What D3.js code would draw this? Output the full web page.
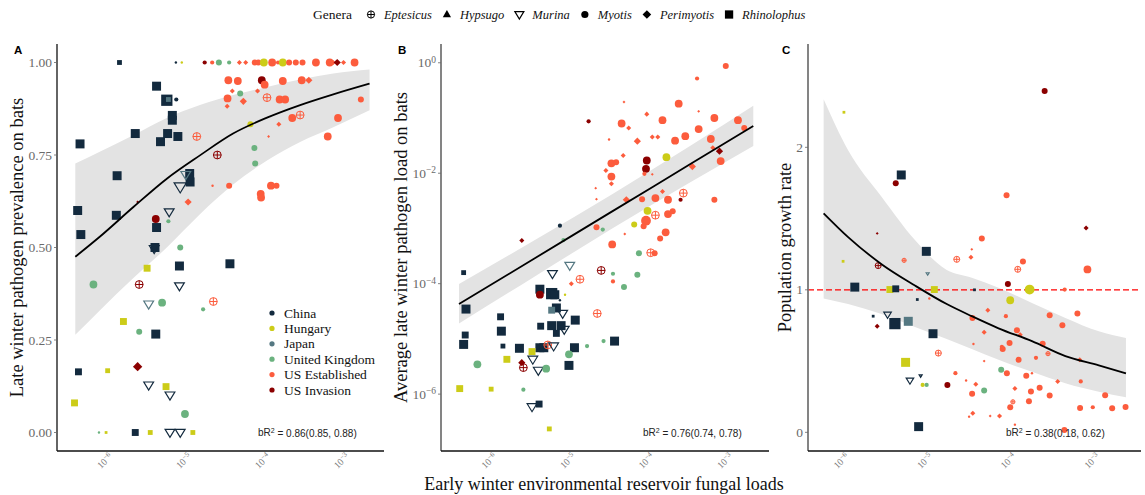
<!DOCTYPE html>
<html>
<head>
<meta charset="utf-8">
<script src="https://cdn.jsdelivr.net/npm/d3@7"></script>
<style>
  body { margin: 0; background: #fff; }
</style>
</head>
<body>
<div id="chart"></div>
<script>
// ---- categories ----
const countryCodes = ['CN', 'HU', 'JP', 'UK', 'USE', 'USI']
const countryNames = ['China', 'Hungary', 'Japan', 'United Kingdom', 'US Established', 'US Invasion']
const countryColors = ['#132a3e', '#cccc18', '#557882', '#6bb27f', '#fc5c3d', '#8b0000']
const generaCodes = ['E', 'H', 'Mu', 'My', 'P', 'R']
const generaNames = ['Eptesicus', 'Hypsugo', 'Murina', 'Myotis', 'Perimyotis', 'Rhinolophus']

// ---- tick values ----
const xTickExps = [-6, -5, -4, -3]
const yTicksA = [0, 0.25, 0.5, 0.75, 1]
const yTickExpsB = [-6, -4, -2, 0]
const yTicksC = [0, 1, 2]

// ---- points: [country, genus, size class, log10 fungal load, response] ----
const pointsA = [
  ['CN','R',2,-5.88,1], ['CN','My',1,-5.165,1], ['HU','My',1,-5.09,1], ['USI','My',2,-4.80,1],
  ['USE','My',2,-4.705,1], ['UK','My',3,-4.62,1], ['UK','My',2,-4.49,1], ['USE','P',2,-4.36,1],
  ['USE','P',2,-4.28,1], ['USE','My',3,-4.165,1], ['USE','My',3,-4.12,1], ['HU','My',4,-4.05,1],
  ['USE','My',4,-3.945,1], ['USE','My',2,-3.87,1], ['HU','My',4,-3.81,1], ['USE','My',3,-3.73,1],
  ['USE','My',3,-3.645,1], ['USE','My',3,-3.56,1], ['USE','My',4,-3.39,1], ['USE','My',4,-3.215,1],
  ['USE','P',2,-3.17,1], ['USI','P',3,-3.12,1], ['USE','P',2,-3.04,1], ['USE','My',4,-2.90,1],
  ['USE','My',4,-4.50,0.952], ['USE','My',4,-4.38,0.95], ['USI','My',4,-4.076,0.952], ['USE','My',4,-4.04,0.94],
  ['USE','My',4,-3.81,0.95], ['USE','My',4,-3.57,0.952], ['USE','P',3,-3.48,0.952], ['USE','P',2,-4.45,0.923],
  ['UK','My',3,-4.35,0.916], ['USE','P',2,-4.13,0.923], ['USE','My',4,-4.51,0.903], ['USE','P',3,-4.31,0.895],
  ['USE','P',2,-4.515,0.882], ['USE','E',4,-4.01,0.905], ['USE','My',4,-3.85,0.90], ['USE','My',4,-3.78,0.90],
  ['USE','My',3,-2.82,0.90], ['USE','E',4,-3.59,0.858], ['USE','My',4,-3.69,0.85], ['USE','My',4,-3.11,0.85],
  ['HU','My',3,-4.22,0.833], ['USE','P',2,-3.86,0.833], ['USE','P',1,-3.99,0.80], ['USE','My',4,-3.24,0.80],
  ['USE','E',4,-4.90,0.80], ['UK','My',3,-4.17,0.769], ['UK','My',3,-4.16,0.727], ['USI','E',4,-4.64,0.75],
  ['USE','My',1,-4.70,0.667], ['USE','My',3,-4.49,0.667], ['USE','My',4,-3.96,0.667], ['USE','My',3,-3.89,0.667],
  ['USE','My',4,-4.09,0.645], ['USE','My',4,-4.085,0.635], ['USE','P',3,-5.01,0.623], ['UK','My',2,-5.26,0.571],
  ['UK','My',3,-5.11,0.50], ['USI','My',4,-5.42,0.577], ['USI','P',1,-5.65,0.623],
  ['CN','R',4,-5.41,0.936], ['CN','R',5,-5.28,0.898], ['JP','R',2,-5.26,0.90], ['CN','My',2,-5.16,0.90],
  ['CN','R',4,-5.21,0.857], ['CN','R',4,-5.21,0.844], ['CN','R',4,-5.68,0.808], ['CN','R',4,-5.27,0.808],
  ['CN','R',4,-5.36,0.786], ['CN','R',4,-5.14,0.80], ['CN','R',4,-6.38,0.78], ['CN','R',4,-5.91,0.694],
  ['CN','R',4,-4.99,0.70], ['CN','R',4,-4.985,0.677], ['CN','R',4,-6.41,0.60], ['CN','R',4,-5.92,0.587],
  ['CN','R',4,-6.37,0.535], ['CN','R',4,-5.41,0.554], ['CN','R',4,-5.43,0.50], ['CN','R',4,-5.12,0.45],
  ['CN','R',4,-4.48,0.456], ['CN','R',4,-5.42,0.266], ['CN','R',3,-6.40,0.164], ['CN','R',3,-5.68,0],
  ['CN','Mu',5,-5.11,0.664], ['JP','Mu',4,-5.04,0.697], ['CN','Mu',4,-5.25,0.596], ['CN','Mu',4,-5.44,0.497],
  ['CN','Mu',4,-5.12,0.396], ['JP','Mu',4,-5.51,0.347], ['CN','Mu',4,-5.51,0.128], ['CN','Mu',4,-5.24,0.101],
  ['CN','Mu',4,-5.24,0], ['CN','Mu',4,-5.11,0],
  ['HU','R',3,-5.53,0.444], ['HU','R',3,-5.83,0.30], ['HU','R',2,-6.03,0.167], ['HU','R',3,-6.45,0.08],
  ['HU','R',3,-5.29,0.124], ['HU','R',1,-6.05,0], ['HU','R',2,-5.49,0], ['HU','R',2,-4.95,0],
  ['UK','My',4,-6.21,0.40], ['UK','My',4,-5.34,0.351], ['UK','My',2,-4.82,0.333], ['UK','My',3,-5.63,0.272],
  ['UK','My',4,-5.05,0.05], ['UK','My',1,-6.14,0], ['USI','E',4,-5.63,0.40], ['USE','E',4,-4.69,0.354],
  ['USI','P',4,-5.65,0.178]
]

// panel B response is log10 of the pathogen load
const pointsB = [
  ['USE','My',3,-3.055,-0.06], ['USE','My',2,-3.42,-0.285], ['USE','P',1,-4.35,-0.71], ['USE','My',4,-3.654,-0.74],
  ['USE','P',1,-3.40,-0.88], ['USE','P',2,-4.06,-0.93], ['USI','My',2,-4.80,-1.06], ['USE','My',4,-4.38,-1.10],
  ['USE','My',4,-3.86,-1.04], ['USE','My',4,-3.20,-1.00], ['USE','My',4,-2.90,-1.04], ['USE','P',2,-4.29,-1.18],
  ['USE','My',4,-3.40,-1.20], ['USE','My',3,-2.82,-1.18], ['USE','P',2,-3.99,-1.345], ['USE','P',2,-3.92,-1.345],
  ['USE','My',4,-3.57,-1.33], ['USE','My',4,-3.70,-1.41], ['USE','My',1,-4.54,-1.39], ['USE','P',3,-4.18,-1.42],
  ['USE','My',4,-3.245,-1.38], ['USE','P',2,-3.22,-1.54], ['USI','P',3,-3.135,-1.60], ['USE','P',2,-4.36,-1.68],
  ['USE','My',4,-4.51,-1.82], ['USE','My',3,-4.45,-1.80], ['USI','My',4,-4.06,-1.77], ['USI','My',4,-4.07,-1.92],
  ['HU','My',4,-3.81,-1.71], ['USE','P',3,-3.48,-1.88], ['USE','My',4,-3.12,-1.78], ['USE','P',2,-4.58,-1.95],
  ['USE','My',4,-4.51,-2.06], ['USE','My',2,-4.09,-2.01], ['USE','P',1,-3.99,-2.02], ['USE','P',2,-4.51,-2.19],
  ['USE','P',1,-4.71,-2.27], ['USE','P',1,-4.70,-2.47], ['USE','P',2,-3.86,-2.33], ['USE','E',4,-3.595,-2.36],
  ['USI','My',2,-3.63,-2.48], ['USE','My',3,-3.20,-2.48], ['USE','P',3,-4.32,-2.48], ['USE','My',3,-4.12,-2.47],
  ['USE','My',4,-3.95,-2.45], ['USE','My',4,-3.79,-2.48], ['HU','My',4,-4.05,-2.68], ['USE','E',4,-3.95,-2.76],
  ['USE','My',4,-3.79,-2.74], ['USE','My',3,-3.73,-2.69], ['USE','My',5,-4.07,-2.86], ['HU','My',3,-4.22,-2.93],
  ['USE','My',3,-4.10,-2.96], ['USE','My',3,-4.70,-2.98], ['UK','My',2,-4.62,-3.02], ['CN','My',2,-5.165,-2.95],
  ['USE','My',4,-3.82,-3.07], ['USE','My',3,-3.89,-3.18], ['USE','P',1,-4.34,-3.10], ['USI','P',2,-5.65,-3.22],
  ['UK','My',2,-5.12,-3.21], ['USE','My',4,-4.50,-3.29], ['UK','My',3,-4.16,-3.45], ['USE','E',4,-4.01,-3.44],
  ['USE','My',3,-3.96,-3.45],
  ['CN','R',2,-6.39,-3.80], ['CN','Mu',4,-5.26,-3.82], ['JP','Mu',4,-5.04,-3.67], ['USI','E',4,-4.64,-3.76],
  ['UK','My',2,-4.49,-3.82], ['UK','My',3,-4.18,-3.84], ['USE','My',2,-4.49,-3.96], ['UK','My',3,-4.35,-4.06],
  ['USE','P',2,-5.02,-4.0], ['USE','E',4,-4.91,-3.92], ['HU','My',1,-5.10,-4.20], ['CN','R',4,-5.42,-4.10],
  ['USI','My',4,-5.42,-4.20], ['CN','R',5,-5.27,-4.18], ['CN','R',4,-5.23,-4.20], ['CN','My',1,-5.165,-4.30],
  ['CN','R',4,-5.21,-4.44], ['JP','R',3,-5.27,-4.48], ['CN','Mu',4,-5.13,-4.54], ['USE','E',4,-4.69,-4.54],
  ['CN','R',4,-6.36,-4.46], ['CN','R',3,-5.92,-4.60], ['CN','R',4,-5.91,-4.86], ['CN','R',4,-4.97,-4.66],
  ['CN','R',3,-5.41,-4.77], ['CN','R',4,-5.27,-4.76], ['CN','R',4,-5.15,-4.76], ['CN','Mu',4,-5.11,-4.83],
  ['CN','R',3,-5.21,-4.90], ['CN','R',3,-6.37,-4.93], ['CN','R',4,-6.39,-5.10], ['CN','R',2,-5.89,-5.13],
  ['CN','R',4,-5.68,-5.17], ['CN','R',4,-5.42,-5.16], ['CN','R',4,-5.37,-5.16], ['USE','E',4,-5.32,-5.11],
  ['CN','Mu',4,-5.245,-5.13], ['CN','R',4,-4.98,-5.16], ['CN','R',4,-4.47,-5.04], ['UK','My',2,-4.61,-5.04],
  ['UK','My',2,-4.82,-5.13], ['UK','My',4,-5.05,-5.28], ['HU','R',3,-5.52,-5.23], ['HU','R',3,-5.84,-5.37],
  ['CN','Mu',4,-5.51,-5.37], ['USI','P',3,-5.65,-5.43], ['USI','E',4,-5.63,-5.52], ['UK','My',4,-6.215,-5.46],
  ['CN','Mu',4,-5.44,-5.57], ['UK','My',4,-5.34,-5.54], ['CN','R',4,-5.05,-5.48], ['HU','R',3,-6.44,-5.90],
  ['HU','R',2,-6.04,-5.91], ['UK','My',2,-5.63,-5.92], ['CN','Mu',4,-5.52,-6.23], ['CN','R',3,-5.43,-6.18],
  ['HU','R',2,-5.30,-6.63]
]

const pointsC = [
  ['USI','My',3,-3.628,2.395], ['HU','R',1,-6.03,2.246], ['CN','R',4,-5.344,1.806], ['USI','My',3,-5.41,1.747],
  ['USE','My',3,-4.084,1.663], ['USI','P',2,-3.132,1.434], ['USI','P',1,-5.632,1.396], ['USE','My',3,-4.38,1.361],
  ['USE','P',1,-4.50,1.284], ['USE','P',2,-4.51,1.228], ['CN','R',4,-5.044,1.27], ['USE','E',2,-5.31,1.207],
  ['USE','E',3,-4.68,1.214], ['USE','My',3,-3.888,1.198], ['HU','R',1,-6.04,1.20], ['USI','E',3,-5.62,1.17],
  ['USE','E',3,-3.95,1.144], ['USE','My',4,-3.116,1.143], ['JP','Mu',1,-5.028,1.113], ['CN','R',4,-5.90,1.019],
  ['HU','R',3,-5.48,1.002], ['CN','R',3,-5.41,1.007], ['HU','R',3,-4.948,1.002], ['CN','R',1,-4.468,1.0],
  ['USI','My',3,-4.068,1.04], ['HU','My',5,-3.808,1.002], ['USE','My',2,-3.388,1.002], ['HU','My',4,-4.04,0.927],
  ['CN','R',1,-5.152,0.932], ['USE','My',1,-5.008,0.939], ['USE','P',2,-4.308,0.857], ['USE','My',3,-4.492,0.803],
  ['USE','My',2,-4.092,0.815], ['USE','My',3,-3.568,0.822], ['USE','My',3,-3.236,0.833], ['USE','My',3,-3.416,0.751],
  ['CN','R',1,-5.68,0.815], ['CN','Mu',3,-5.508,0.826], ['USI','P',2,-5.632,0.744], ['CN','R',5,-5.42,0.763],
  ['JP','R',4,-5.26,0.779], ['CN','R',4,-4.964,0.692], ['USE','P',2,-4.352,0.702], ['USE','My',3,-3.96,0.716],
  ['USE','P',2,-3.92,0.685], ['USE','My',3,-4.048,0.627], ['USE','My',3,-3.652,0.622], ['USE','My',1,-4.48,0.62],
  ['USE','My',3,-4.13,0.585], ['USE','My',2,-4.14,0.60], ['USE','E',3,-4.90,0.556], ['USE','E',2,-3.588,0.552],
  ['USE','P',2,-3.208,0.509], ['USE','My',2,-3.732,0.523], ['USE','My',3,-3.94,0.509], ['USE','My',2,-3.196,0.357],
  ['USE','P',1,-4.352,0.50], ['HU','R',4,-5.292,0.491], ['USE','My',3,-4.08,0.415], ['USE','My',3,-3.848,0.397],
  ['USE','My',1,-3.78,0.415], ['USE','My',2,-4.696,0.415], ['UK','My',3,-4.148,0.439], ['USE','P',2,-3.472,0.357],
  ['CN','Mu',3,-5.24,0.364], ['CN','Mu',1,-5.112,0.397], ['HU','My',2,-5.088,0.333], ['UK','My',2,-5.04,0.333],
  ['USI','My',3,-4.792,0.333], ['USE','My',1,-4.568,0.364], ['USE','P',2,-4.452,0.338], ['UK','My',3,-4.352,0.293],
  ['USE','My',3,-4.496,0.27], ['USE','P',2,-3.984,0.308], ['USE','My',3,-3.792,0.286], ['USE','My',3,-3.688,0.312],
  ['USE','My',3,-3.568,0.258], ['USE','My',3,-3.816,0.218], ['USE','E',2,-4.008,0.214], ['USE','My',3,-2.904,0.261],
  ['USE','My',3,-4.04,0.176], ['USE','My',3,-3.204,0.171], ['USE','My',2,-3.052,0.176], ['USE','My',3,-2.82,0.169],
  ['USE','My',3,-2.66,0.178], ['USE','P',2,-4.488,0.134], ['USE','P',1,-4.28,0.115], ['USE','P',2,-4.168,0.115],
  ['USE','My',1,-4.532,0.11], ['USE','My',1,-3.984,0.054], ['USE','My',3,-3.392,0.016], ['CN','R',4,-5.136,0.04]
]

// ---- fitted curves and confidence bands (log10 x, value) ----
const fitA_lx = [-6.44, -6.13, -5.70, -5.28, -4.86, -4.44, -4.01, -3.59, -3.17, -2.71]
const fitA = [0.475, 0.529, 0.610, 0.686, 0.749, 0.808, 0.851, 0.885, 0.914, 0.943]
const bandA_hi = [0.727, 0.759, 0.804, 0.850, 0.885, 0.912, 0.934, 0.954, 0.970, 0.981]
const bandA_lo = [0.264, 0.330, 0.418, 0.500, 0.590, 0.670, 0.735, 0.785, 0.825, 0.871]

const fitB_lx = [-6.449, -5.5, -4.5, -3.5, -2.705]
const fitB = [-4.370, -3.553, -2.691, -1.830, -1.145]
const bandB_hi = [-4.007, -3.223, -2.381, -1.500, -0.777]
const bandB_lo = [-4.719, -3.883, -3.001, -2.160, -1.507]

const fitC_lx = [-6.273, -5.98, -5.58, -5.18, -4.80, -4.50, -4.18, -3.78, -3.38, -2.98, -2.655]
const fitC = [1.537, 1.37, 1.18, 1.03, 0.90, 0.815, 0.73, 0.64, 0.535, 0.47, 0.414]
const bandC_hi = [2.337, 1.98, 1.653, 1.349, 1.139, 1.085, 1.014, 0.908, 0.803, 0.709, 0.662]
const bandC_lo = [0.94, 0.90, 0.83, 0.74, 0.655, 0.585, 0.509, 0.425, 0.345, 0.285, 0.246]

const r2Labels = ['0.86(0.85, 0.88)', '0.76(0.74, 0.78)', '0.38(0.18, 0.62)']

// ---- drawing ----
const W = 1145, H = 495
const plotTop = 44, plotBottom = 451
const sizeR = [1.2, 2.1, 3.0, 3.9, 4.9]
const serif = "'Liberation Serif', 'Times New Roman', serif"
const sans = "'Liberation Sans', Arial, sans-serif"
const colorOf = c => countryColors[countryCodes.indexOf(c)]

const svg = d3.select('#chart').append('svg')
  .attr('width', W).attr('height', H)
  .style('font-family', serif)

function drawMarker(g, genus, color, r) {
  if (genus === 'My') {
    g.append('circle').attr('r', r).attr('fill', color)
  } else if (genus === 'R') {
    const s = r * 2.3
    g.append('rect').attr('x', -s/2).attr('y', -s/2).attr('width', s).attr('height', s).attr('fill', color)
  } else if (genus === 'P') {
    const a = r * 1.2
    g.append('path').attr('d', `M0,${-a}L${a},0L0,${a}L${-a},0Z`).attr('fill', color)
  } else if (genus === 'H') {
    g.append('path').attr('d', `M0,${-r*1.25}L${r*1.15},${r*0.75}L${-r*1.15},${r*0.75}Z`).attr('fill', color)
  } else if (genus === 'Mu') {
    g.append('path').attr('d', `M${-r*1.25},${-r*0.8}L${r*1.25},${-r*0.8}L0,${r*1.25}Z`)
      .attr('fill', 'none').attr('stroke', color).attr('stroke-width', 1.2)
  } else if (genus === 'E') {
    g.append('circle').attr('r', r).attr('fill', 'none').attr('stroke', color).attr('stroke-width', 1)
    g.append('path').attr('d', `M${-r},0H${r}M0,${-r}V${r}`).attr('stroke', color).attr('stroke-width', 1)
  }
}

function addSup(text, base, sup, supSize) {
  text.append('tspan').text(base)
  text.append('tspan').attr('dy', '-0.45em').style('font-size', supSize).text(sup)
}

const panels = [
  { label: 'A', left: 57, right: 384, xDom: [-6.672, -2.527], yLog: false, yDom: [-0.05, 1.05],
    pts: pointsA, fx: fitA_lx, fit: fitA, hi: bandA_hi, lo: bandA_lo, axisColor: '#111', axisW: 1.3,
    title: 'Late winter pathogen prevalence on bats', titleX: 23, r2x: 258, labelX: 14 },
  { label: 'B', left: 441, right: 769, xDom: [-6.678, -2.505], yLog: true, yDom: [-7.03, 0.34],
    pts: pointsB, fx: fitB_lx, fit: fitB, hi: bandB_hi, lo: bandB_lo, axisColor: '#777', axisW: 1.8,
    title: 'Average late winter pathogen load on bats', titleX: 407, r2x: 643, labelX: 398 },
  { label: 'C', left: 808, right: 1141, xDom: [-6.46, -2.475], yLog: false, yDom: [-0.131, 2.725],
    pts: pointsC, fx: fitC_lx, fit: fitC, hi: bandC_hi, lo: bandC_lo, axisColor: '#777', axisW: 1.8,
    title: 'Population growth rate', titleX: 791, r2x: 1006, labelX: 782 }
]

panels.forEach((p, pi) => {
  const x = d3.scaleLog().domain(p.xDom.map(e => Math.pow(10, e))).range([p.left, p.right])
  const yScale = p.yLog
    ? d3.scaleLog().domain(p.yDom.map(e => Math.pow(10, e))).range([plotBottom, plotTop])
    : d3.scaleLinear().domain(p.yDom).range([plotBottom, plotTop])
  const y = v => p.yLog ? yScale(Math.pow(10, v)) : yScale(v)
  const xl = e => x(Math.pow(10, e))
  const g = svg.append('g')

  // confidence band
  const bandData = p.fx.map((e, i) => [e, p.lo[i], p.hi[i]])
  g.append('path')
    .attr('d', d3.area().x(d => xl(d[0])).y0(d => y(d[1])).y1(d => y(d[2])).curve(d3.curveMonotoneX)(bandData))
    .attr('fill', '#e3e3e3')

  // reference line at 1 for growth rate
  if (p.label === 'C') {
    g.append('line')
      .attr('x1', p.left).attr('x2', p.right)
      .attr('y1', y(1)).attr('y2', y(1))
      .attr('stroke', '#ff0000').attr('stroke-width', 1.2)
      .attr('stroke-dasharray', '6,3')
  }

  // points
  g.selectAll('g.pt').data(p.pts).join('g')
    .attr('class', 'pt')
    .attr('transform', d => `translate(${xl(d[3])},${y(d[4])})`)
    .each(function(d) { drawMarker(d3.select(this), d[1], colorOf(d[0]), sizeR[d[2] - 1]) })

  // fitted line
  g.append('path')
    .attr('d', d3.line().x(e => xl(e)).y((e, i) => y(p.fit[i])).curve(d3.curveMonotoneX)(p.fx))
    .attr('fill', 'none').attr('stroke', '#000').attr('stroke-width', 1.8)

  // axes lines
  g.append('line').attr('x1', p.left).attr('x2', p.left).attr('y1', plotTop).attr('y2', plotBottom)
    .attr('stroke', p.axisColor).attr('stroke-width', p.axisW)
  g.append('line').attr('x1', p.left).attr('x2', p.right).attr('y1', plotBottom).attr('y2', plotBottom)
    .attr('stroke', '#111').attr('stroke-width', 1.3)

  // x tick labels (rotated)
  xTickExps.forEach(e => {
    const tx = xl(e)
    const t = g.append('text')
      .attr('transform', `translate(${tx + 3},${plotBottom + 6}) rotate(-45)`)
      .attr('text-anchor', 'end')
      .style('font-size', '9.5px').style('fill', '#777')
    addSup(t, '10', '\u2212' + Math.abs(e), '7px')
  })

  // y ticks
  const yTicks = p.label === 'A' ? yTicksA : p.label === 'B' ? yTickExpsB : yTicksC
  yTicks.forEach(v => {
    const ty = y(v)
    g.append('line').attr('x1', p.left - 3).attr('x2', p.left).attr('y1', ty).attr('y2', ty)
      .attr('stroke', '#666').attr('stroke-width', 0.8)
    const t = g.append('text')
      .attr('x', p.left - 5).attr('y', ty + 4.5)
      .attr('text-anchor', 'end')
      .style('font-size', '13.5px').style('fill', '#6a6a6a')
    if (p.label === 'A') t.text(d3.format('.2f')(v))
    else if (p.label === 'B') addSup(t, '10', v === 0 ? '0' : '\u2212' + Math.abs(v), '9.5px')
    else t.text(v)
  })

  // y title
  g.append('text')
    .attr('transform', `translate(${p.titleX},${(plotTop + plotBottom) / 2}) rotate(-90)`)
    .attr('text-anchor', 'middle')
    .style('font-size', '18.5px').style('fill', '#111')
    .text(p.title)

  // panel letter
  g.append('text')
    .attr('x', p.labelX).attr('y', 54)
    .style('font-family', sans)
    .style('font-weight', 'bold').style('font-size', '11.5px')
    .text(p.label)

  // bR2 annotation
  const r2 = g.append('text')
    .attr('x', p.r2x).attr('y', 436)
    .style('font-family', sans)
    .style('font-size', '10px').style('fill', '#222')
  r2.append('tspan').text('bR')
  r2.append('tspan').attr('dy', '-0.45em').style('font-size', '7px').text('2')
  r2.append('tspan').attr('dy', '0.45em').text(' = ' + r2Labels[pi])
})

// country legend inside panel A
const legC = svg.append('g')
countryNames.forEach((name, i) => {
  const cy = 313 + i * 15.4
  legC.append('circle').attr('cx', 272).attr('cy', cy).attr('r', 2.6).attr('fill', countryColors[i])
  legC.append('text').attr('x', 284).attr('y', cy + 4.5)
    .style('font-family', serif)
    .style('font-size', '13.5px').style('fill', '#111').text(name)
})

// x title
svg.append('text')
  .attr('x', 604).attr('y', 490)
  .attr('text-anchor', 'middle')
  .style('font-family', serif)
  .style('font-size', '18px').style('fill', '#111')
  .text('Early winter environmental reservoir fungal loads')

// genera legend on top
const legG = svg.append('g')
const gTitle = legG.append('text').attr('x', 313).attr('y', 19)
  .style('font-family', serif)
  .style('font-size', '13.5px').style('fill', '#111').text('Genera')
let cursor = 313 + gTitle.node().getComputedTextLength() + 19
generaNames.forEach((name, i) => {
  const mk = legG.append('g').attr('transform', `translate(${cursor},14.5)`)
  drawMarker(mk, generaCodes[i], '#000', 3.6)
  const t = legG.append('text').attr('x', cursor + 13).attr('y', 19)
    .style('font-family', serif)
    .style('font-size', '12.5px').style('font-style', 'italic').style('fill', '#111').text(name)
  cursor += 13 + t.node().getComputedTextLength() + 15
})
</script>
</body>
</html>
